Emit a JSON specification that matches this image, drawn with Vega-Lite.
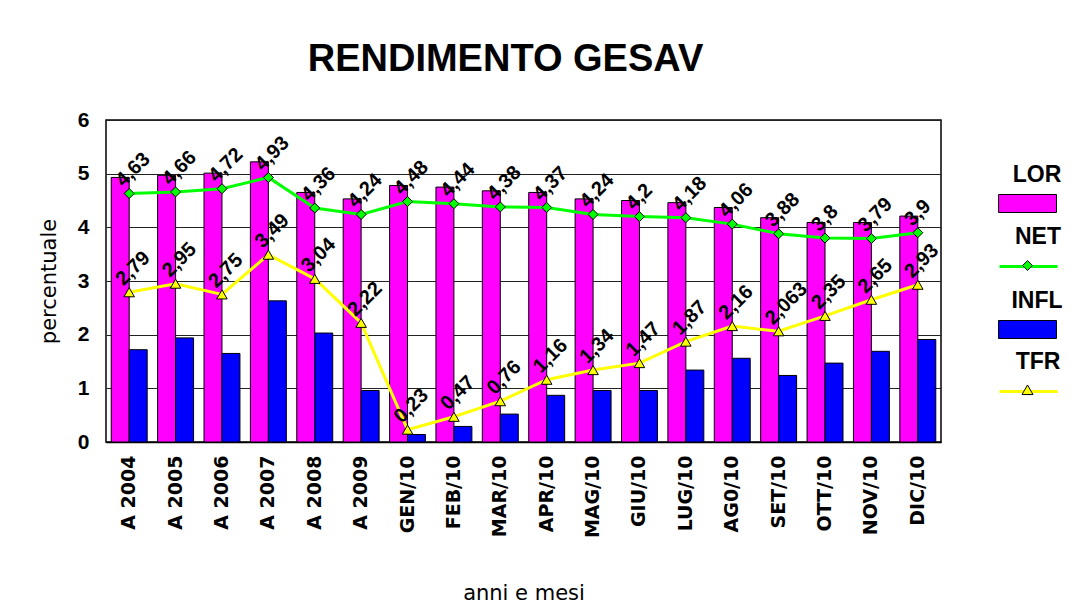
{
  "$schema": "https://vega.github.io/schema/vega-lite/v6.json",
  "width": 835,
  "height": 322,
  "autosize": {"type": "none"},
  "padding": {"left": 106, "top": 120, "right": 143, "bottom": 166},
  "background": "#ffffff",
  "title": {
    "text": "RENDIMENTO GESAV",
    "font": "Liberation Sans",
    "fontSize": 38,
    "fontWeight": "bold",
    "color": "#000000",
    "anchor": "middle",
    "frame": "group",
    "baseline": "alphabetic",
    "offset": 0,
    "dx": -18
  },
  "config": {
    "locale": {"number": {"decimal": ",", "thousands": ".", "grouping": [3], "currency": ["", " €"]}},
    "view": {"stroke": "#000000", "strokeWidth": 1.5},
    "axis": {"labelColor": "#000000", "titleColor": "#000000"},
    "legend": {
      "orient": "none",
      "padding": 0,
      "symbolSize": 3364,
      "labelOffset": 18,
      "labelFontSize": 1,
      "labelColor": "rgba(0,0,0,0)",
      "titleFont": "Liberation Sans",
      "titleFontSize": 23,
      "titleFontWeight": "bold",
      "titleColor": "#000000",
      "titleAnchor": "middle",
      "titlePadding": -13,
      "symbolOpacity": 1
    }
  },
  "data": {
    "values": [
      {"periodo": "A 2004", "LOR": 4.93, "NET": 4.63, "INFL": 1.72, "TFR": 2.79},
      {"periodo": "A 2005", "LOR": 4.97, "NET": 4.66, "INFL": 1.94, "TFR": 2.95},
      {"periodo": "A 2006", "LOR": 5.01, "NET": 4.72, "INFL": 1.65, "TFR": 2.75},
      {"periodo": "A 2007", "LOR": 5.22, "NET": 4.93, "INFL": 2.63, "TFR": 3.49},
      {"periodo": "A 2008", "LOR": 4.65, "NET": 4.36, "INFL": 2.03, "TFR": 3.04},
      {"periodo": "A 2009", "LOR": 4.53, "NET": 4.24, "INFL": 0.96, "TFR": 2.22},
      {"periodo": "GEN/10", "LOR": 4.78, "NET": 4.48, "INFL": 0.14, "TFR": 0.23},
      {"periodo": "FEB/10", "LOR": 4.75, "NET": 4.44, "INFL": 0.29, "TFR": 0.47},
      {"periodo": "MAR/10", "LOR": 4.68, "NET": 4.38, "INFL": 0.52, "TFR": 0.76},
      {"periodo": "APR/10", "LOR": 4.65, "NET": 4.37, "INFL": 0.87, "TFR": 1.16},
      {"periodo": "MAG/10", "LOR": 4.53, "NET": 4.24, "INFL": 0.96, "TFR": 1.34},
      {"periodo": "GIU/10", "LOR": 4.50, "NET": 4.2, "INFL": 0.96, "TFR": 1.47},
      {"periodo": "LUG/10", "LOR": 4.46, "NET": 4.18, "INFL": 1.34, "TFR": 1.87},
      {"periodo": "AG0/10", "LOR": 4.37, "NET": 4.06, "INFL": 1.56, "TFR": 2.16},
      {"periodo": "SET/10", "LOR": 4.18, "NET": 3.88, "INFL": 1.24, "TFR": 2.063},
      {"periodo": "OTT/10", "LOR": 4.09, "NET": 3.8, "INFL": 1.47, "TFR": 2.35},
      {"periodo": "NOV/10", "LOR": 4.09, "NET": 3.79, "INFL": 1.69, "TFR": 2.65},
      {"periodo": "DIC/10", "LOR": 4.21, "NET": 3.9, "INFL": 1.91, "TFR": 2.93}
    ]
  },
  "encoding": {
    "x": {
      "field": "periodo",
      "type": "nominal",
      "sort": null,
      "scale": {"paddingInner": 0, "paddingOuter": 0},
      "axis": {
        "title": "anni e mesi",
        "titleFont": "DejaVu Sans",
        "titleFontSize": 21,
        "titleFontWeight": "normal",
        "titleY": 157,
        "titleBaseline": "alphabetic",
        "labelAngle": 270,
        "labelFont": "DejaVu Sans",
        "labelFontSize": 19,
        "labelFontWeight": "bold",
        "labelPadding": 13,
        "ticks": false,
        "domain": true,
        "domainColor": "#000000",
        "domainWidth": 1.5,
        "grid": false
      }
    },
    "y": {
      "type": "quantitative",
      "scale": {"domain": [0, 6], "nice": false},
      "axis": {
        "title": "percentuale",
        "titleFont": "DejaVu Sans",
        "titleFontSize": 21,
        "titleFontWeight": "normal",
        "titleX": -57,
        "titleY": 161,
        "titleAlign": "center",
        "titleBaseline": "middle",
        "values": [0, 1, 2, 3, 4, 5, 6],
        "labelFont": "Liberation Sans",
        "labelFontSize": 21,
        "labelFontWeight": "bold",
        "labelPadding": 17,
        "ticks": false,
        "domain": false,
        "grid": true,
        "gridColor": "#222222",
        "gridWidth": 1
      }
    }
  },
  "resolve": {"scale": {"fill": "independent", "stroke": "independent"}},
  "layer": [
    {
      "transform": [{"fold": ["LOR"], "as": ["serie", "valore"]}],
      "mark": {"type": "bar", "stroke": "#000000", "strokeWidth": 1},
      "encoding": {
        "xOffset": {"field": "serie", "type": "nominal", "scale": {"domain": ["LOR", "INFL"], "paddingInner": 0, "paddingOuter": 0.29}},
        "y": {"field": "valore", "type": "quantitative"},
        "fill": {
          "field": "serie", "type": "nominal",
          "scale": {"domain": ["LOR"], "range": ["#ff00ff"]},
          "legend": {"title": "LOR", "labelExpr": "''", "legendX": 892, "legendY": 44, "symbolType": "M-1,-0.31H1V0.31H-1Z", "symbolStrokeColor": "#000000", "symbolStrokeWidth": 1}
        }
      }
    },
    {
      "transform": [{"fold": ["INFL"], "as": ["serie", "valore"]}],
      "mark": {"type": "bar", "stroke": "#000000", "strokeWidth": 1},
      "encoding": {
        "xOffset": {"field": "serie", "type": "nominal", "scale": {"domain": ["LOR", "INFL"], "paddingInner": 0, "paddingOuter": 0.29}},
        "y": {"field": "valore", "type": "quantitative"},
        "fill": {
          "field": "serie", "type": "nominal",
          "scale": {"domain": ["INFL"], "range": ["#0000ff"]},
          "legend": {"title": "INFL", "labelExpr": "''", "legendX": 892, "legendY": 170, "symbolType": "M-1,-0.31H1V0.31H-1Z", "symbolStrokeColor": "#000000", "symbolStrokeWidth": 1}
        }
      }
    },
    {
      "transform": [{"fold": ["NET"], "as": ["serie", "valore"]}],
      "mark": {"type": "line", "strokeWidth": 3},
      "encoding": {
        "y": {"field": "valore", "type": "quantitative"},
        "stroke": {
          "field": "serie", "type": "nominal",
          "scale": {"domain": ["NET"], "range": ["#00ff00"]},
          "legend": {"title": "NET", "labelExpr": "''", "legendX": 892, "legendY": 106, "symbolType": "M-1,0H1", "symbolStrokeWidth": 3}
        }
      }
    },
    {
      "transform": [{"fold": ["NET"], "as": ["serie", "valore"]}],
      "mark": {"type": "point", "shape": "diamond", "filled": true, "stroke": "#000000", "strokeWidth": 1, "size": 100, "opacity": 1},
      "encoding": {
        "y": {"field": "valore", "type": "quantitative"},
        "fill": {
          "field": "serie", "type": "nominal",
          "scale": {"domain": ["NET"], "range": ["#00ff00"]},
          "legend": {"title": "NET", "labelExpr": "''", "titleColor": "rgba(0,0,0,0)", "legendX": 892, "legendY": 106, "symbolType": "M0,-0.17L0.17,0L0,0.17L-0.17,0Z", "symbolStrokeColor": "#000000", "symbolStrokeWidth": 1}
        }
      }
    },
    {
      "transform": [{"fold": ["NET"], "as": ["serie", "valore"]}],
      "mark": {"type": "text", "angle": 315, "align": "left", "baseline": "middle", "dx": 0, "dy": -14, "font": "Liberation Sans", "fontSize": 20, "fontWeight": "bold", "color": "#000000"},
      "encoding": {
        "y": {"field": "valore", "type": "quantitative"},
        "text": {"field": "valore", "type": "quantitative", "format": "~r"}
      }
    },
    {
      "transform": [{"fold": ["TFR"], "as": ["serie", "valore"]}],
      "mark": {"type": "line", "strokeWidth": 3},
      "encoding": {
        "y": {"field": "valore", "type": "quantitative"},
        "stroke": {
          "field": "serie", "type": "nominal",
          "scale": {"domain": ["TFR"], "range": ["#ffff00"]},
          "legend": {"title": "TFR", "labelExpr": "''", "legendX": 892, "legendY": 231, "symbolType": "M-1,0H1", "symbolStrokeWidth": 3}
        }
      }
    },
    {
      "transform": [{"fold": ["TFR"], "as": ["serie", "valore"]}],
      "mark": {"type": "point", "shape": "triangle-up", "filled": true, "stroke": "#000000", "strokeWidth": 1, "size": 110, "opacity": 1},
      "encoding": {
        "y": {"field": "valore", "type": "quantitative"},
        "fill": {
          "field": "serie", "type": "nominal",
          "scale": {"domain": ["TFR"], "range": ["#ffff00"]},
          "legend": {"title": "TFR", "labelExpr": "''", "titleColor": "rgba(0,0,0,0)", "legendX": 892, "legendY": 231, "symbolType": "M0,-0.19L0.19,0.14L-0.19,0.14Z", "symbolStrokeColor": "#000000", "symbolStrokeWidth": 1}
        }
      }
    },
    {
      "transform": [{"fold": ["TFR"], "as": ["serie", "valore"]}],
      "mark": {"type": "text", "angle": 315, "align": "left", "baseline": "middle", "dx": 0, "dy": -14, "font": "Liberation Sans", "fontSize": 20, "fontWeight": "bold", "color": "#000000"},
      "encoding": {
        "y": {"field": "valore", "type": "quantitative"},
        "text": {"field": "valore", "type": "quantitative", "format": "~r"}
      }
    }
  ]
}
